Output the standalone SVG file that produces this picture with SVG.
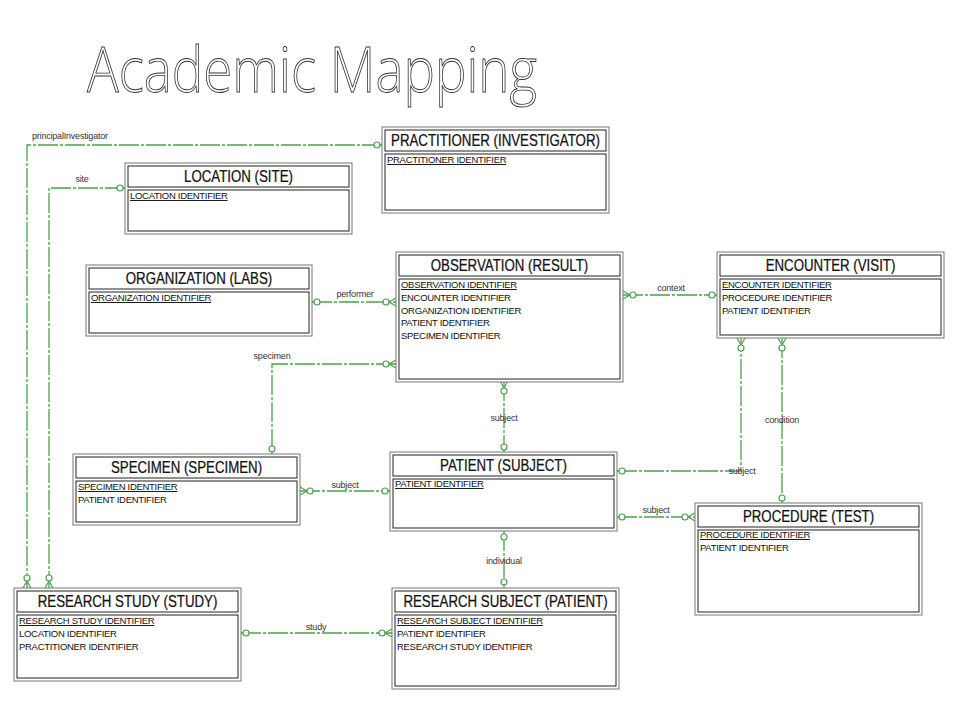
<svg xmlns="http://www.w3.org/2000/svg" width="960" height="720" viewBox="0 0 960 720">
<style>
.outer{fill:#fff;stroke:#777;stroke-width:1}
.inner{fill:#fff;stroke:#222;stroke-width:1}
.hdr{font-family:"Liberation Sans",Arial,sans-serif;font-size:16px;fill:#111;stroke:#111;stroke-width:0.25;text-anchor:middle}
.att{font-family:"Liberation Sans",Arial,sans-serif;font-size:9.5px;letter-spacing:-0.3px;fill:#111}
.pk{text-decoration:underline}
.ln{fill:none;stroke:#4aa24a;stroke-width:1.3;stroke-dasharray:20 2 3 2}
.cf{fill:none;stroke:#4aa24a;stroke-width:1.2}
.ci{fill:#fff;stroke:#4aa24a;stroke-width:1.2}
.lbl{font-family:"Liberation Sans",Arial,sans-serif;font-size:9px;letter-spacing:-0.2px;fill:#333;text-anchor:middle}
.title{font-family:"Open Sans","Liberation Sans",sans-serif;font-weight:300;font-size:62px;fill:#fff;stroke:#333;stroke-width:0.9}
</style>
<rect width="960" height="720" fill="#fff"/>
<text class="title" x="87" y="92" textLength="450" lengthAdjust="spacingAndGlyphs">Academic Mapping</text>

<g id="connectors">
<path class="ln" d="M382,145 H27 V588"/>
<circle class="ci" cx="377" cy="145" r="3"/>
<path class="cf" d="M23,588 L27,581 L31,588"/>
<circle class="ci" cx="27" cy="578" r="3"/>
<text class="lbl" x="32" y="139" style="text-anchor:start">principalInvestigator</text>

<path class="ln" d="M125,188 H49 V588"/>
<circle class="ci" cx="120" cy="188" r="3"/>
<path class="cf" d="M45,588 L49,581 L53,588"/>
<circle class="ci" cx="49" cy="578" r="3"/>
<text class="lbl" x="82" y="182">site</text>

<path class="ln" d="M312,302 H396"/>
<circle class="ci" cx="317" cy="302" r="3"/>
<path class="cf" d="M396,298 L389,302 L396,306"/>
<circle class="ci" cx="386" cy="302" r="3"/>
<text class="lbl" x="355" y="297">performer</text>

<path class="ln" d="M396,364 H272 V454"/>
<path class="cf" d="M396,360 L389,364 L396,368"/>
<circle class="ci" cx="386" cy="364" r="3"/>
<circle class="ci" cx="272" cy="449" r="3"/>
<text class="lbl" x="272" y="359">specimen</text>

<path class="ln" d="M623,295 H717"/>
<path class="cf" d="M623,291 L630,295 L623,299"/>
<circle class="ci" cx="633" cy="295" r="3"/>
<circle class="ci" cx="712" cy="295" r="3"/>
<text class="lbl" x="671" y="291">context</text>

<path class="ln" d="M504,381 V452"/>
<path class="cf" d="M500,381 L504,388 L508,381"/>
<circle class="ci" cx="504" cy="391" r="3"/>
<circle class="ci" cx="504" cy="447" r="3"/>
<text class="lbl" x="504" y="421">subject</text>

<path class="ln" d="M300,491 H390"/>
<path class="cf" d="M300,487 L307,491 L300,495"/>
<circle class="ci" cx="310" cy="491" r="3"/>
<circle class="ci" cx="385" cy="491" r="3"/>
<text class="lbl" x="345" y="488">subject</text>

<path class="ln" d="M617,471 H741 V338"/>
<circle class="ci" cx="622" cy="471" r="3"/>
<path class="cf" d="M737,338 L741,345 L745,338"/>
<circle class="ci" cx="741" cy="348" r="3"/>
<text class="lbl" x="742" y="474">subject</text>

<path class="ln" d="M782,338 V503"/>
<path class="cf" d="M778,338 L782,345 L786,338"/>
<circle class="ci" cx="782" cy="348" r="3"/>
<circle class="ci" cx="782" cy="498" r="3"/>
<text class="lbl" x="782" y="423">condition</text>

<path class="ln" d="M617,517 H695"/>
<circle class="ci" cx="622" cy="517" r="3"/>
<path class="cf" d="M695,513 L688,517 L695,521"/>
<circle class="ci" cx="685" cy="517" r="3"/>
<text class="lbl" x="656" y="513">subject</text>

<path class="ln" d="M504,531 V588"/>
<circle class="ci" cx="504" cy="537" r="3"/>
<circle class="ci" cx="504" cy="582" r="3"/>
<text class="lbl" x="504" y="564">individual</text>

<path class="ln" d="M241,633 H392"/>
<circle class="ci" cx="246" cy="633" r="3"/>
<path class="cf" d="M392,629 L385,633 L392,637"/>
<circle class="ci" cx="382" cy="633" r="3"/>
<text class="lbl" x="316" y="630">study</text>
</g>

<g id="practitioner">
<rect class="outer" x="382" y="127" width="227" height="86"/>
<rect class="inner" x="385" y="130" width="221" height="21"/>
<rect class="inner" x="385" y="154" width="221" height="56"/>
<text class="hdr" transform="translate(495.5,146) scale(0.83,1)">PRACTITIONER (INVESTIGATOR)</text>
<text class="att pk" x="387" y="163">PRACTITIONER IDENTIFIER</text>
</g>

<g id="location">
<rect class="outer" x="125" y="163" width="227" height="71"/>
<rect class="inner" x="128" y="166" width="221" height="21"/>
<rect class="inner" x="128" y="190" width="221" height="41"/>
<text class="hdr" transform="translate(238.5,182) scale(0.83,1)">LOCATION (SITE)</text>
<text class="att pk" x="130" y="199">LOCATION IDENTIFIER</text>
</g>

<g id="organization">
<rect class="outer" x="86" y="265" width="226" height="71"/>
<rect class="inner" x="89" y="268" width="220" height="21"/>
<rect class="inner" x="89" y="292" width="220" height="41"/>
<text class="hdr" transform="translate(199,284) scale(0.83,1)">ORGANIZATION (LABS)</text>
<text class="att pk" x="91" y="301">ORGANIZATION IDENTIFIER</text>
</g>

<g id="observation">
<rect class="outer" x="396" y="252" width="227" height="130"/>
<rect class="inner" x="399" y="255" width="221" height="21"/>
<rect class="inner" x="399" y="279" width="221" height="100"/>
<text class="hdr" transform="translate(509.5,271) scale(0.83,1)">OBSERVATION (RESULT)</text>
<text class="att pk" x="401" y="288">OBSERVATION IDENTIFIER</text>
<text class="att" x="401" y="300.8">ENCOUNTER IDENTIFIER</text>
<text class="att" x="401" y="313.6">ORGANIZATION IDENTIFIER</text>
<text class="att" x="401" y="326.4">PATIENT IDENTIFIER</text>
<text class="att" x="401" y="339.2">SPECIMEN IDENTIFIER</text>
</g>

<g id="encounter">
<rect class="outer" x="717" y="252" width="227" height="86"/>
<rect class="inner" x="720" y="255" width="221" height="21"/>
<rect class="inner" x="720" y="279" width="221" height="56"/>
<text class="hdr" transform="translate(830.5,271) scale(0.83,1)">ENCOUNTER (VISIT)</text>
<text class="att pk" x="722" y="288">ENCOUNTER IDENTIFIER</text>
<text class="att" x="722" y="300.8">PROCEDURE IDENTIFIER</text>
<text class="att" x="722" y="313.6">PATIENT IDENTIFIER</text>
</g>

<g id="specimen">
<rect class="outer" x="73" y="454" width="227" height="71"/>
<rect class="inner" x="76" y="457" width="221" height="21"/>
<rect class="inner" x="76" y="481" width="221" height="41"/>
<text class="hdr" transform="translate(186.5,473) scale(0.83,1)">SPECIMEN (SPECIMEN)</text>
<text class="att pk" x="78" y="490">SPECIMEN IDENTIFIER</text>
<text class="att" x="78" y="502.8">PATIENT IDENTIFIER</text>
</g>

<g id="patient">
<rect class="outer" x="390" y="452" width="227" height="79"/>
<rect class="inner" x="393" y="455" width="221" height="21"/>
<rect class="inner" x="393" y="479" width="221" height="49"/>
<text class="hdr" transform="translate(503.5,471) scale(0.83,1)">PATIENT (SUBJECT)</text>
<text class="att pk" x="395" y="487">PATIENT IDENTIFIER</text>
</g>

<g id="procedure">
<rect class="outer" x="695" y="503" width="227" height="112"/>
<rect class="inner" x="698" y="506" width="221" height="21"/>
<rect class="inner" x="698" y="530" width="221" height="82"/>
<text class="hdr" transform="translate(808.5,522) scale(0.83,1)">PROCEDURE (TEST)</text>
<text class="att pk" x="700" y="538">PROCEDURE IDENTIFIER</text>
<text class="att" x="700" y="550.8">PATIENT IDENTIFIER</text>
</g>

<g id="research-study">
<rect class="outer" x="14" y="588" width="227" height="93"/>
<rect class="inner" x="17" y="591" width="221" height="21"/>
<rect class="inner" x="17" y="615" width="221" height="63"/>
<text class="hdr" transform="translate(127.5,607) scale(0.83,1)">RESEARCH STUDY (STUDY)</text>
<text class="att pk" x="19" y="624">RESEARCH STUDY IDENTIFIER</text>
<text class="att" x="19" y="636.8">LOCATION IDENTIFIER</text>
<text class="att" x="19" y="649.6">PRACTITIONER IDENTIFIER</text>
</g>

<g id="research-subject">
<rect class="outer" x="392" y="588" width="227" height="101"/>
<rect class="inner" x="395" y="591" width="221" height="21"/>
<rect class="inner" x="395" y="615" width="221" height="71"/>
<text class="hdr" transform="translate(505.5,607) scale(0.83,1)">RESEARCH SUBJECT (PATIENT)</text>
<text class="att pk" x="397" y="624">RESEARCH SUBJECT IDENTIFIER</text>
<text class="att" x="397" y="636.8">PATIENT IDENTIFIER</text>
<text class="att" x="397" y="649.6">RESEARCH STUDY IDENTIFIER</text>
</g>
</svg>
